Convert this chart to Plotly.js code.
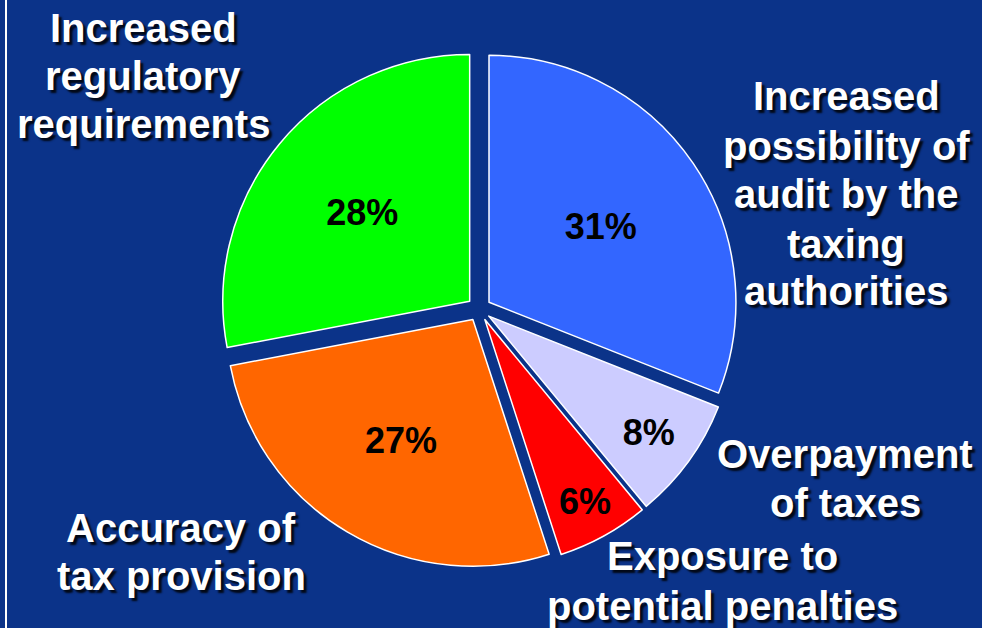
<!DOCTYPE html>
<html>
<head>
<meta charset="utf-8">
<script src="https://cdn.plot.ly/plotly-3.0.1.min.js"></script>
<style>
  html, body { margin: 0; padding: 0; background: #0b3389; }
  #chart { width: 982px; height: 628px; }
</style>
</head>
<body>
<div id="chart"></div>
<script>
// ---- data ----
const categories = [
  'Increased possibility of audit by the taxing authorities',
  'Overpayment of taxes',
  'Exposure to potential penalties',
  'Accuracy of tax provision',
  'Increased regulatory requirements'
];
const values = [31, 8, 6, 27, 28];
const sliceColors = ['#3366ff', '#ccccff', '#ff0000', '#ff6600', '#00ff00'];
const labelLines = [
  ['Increased', 'possibility of', 'audit by the', 'taxing', 'authorities'],
  ['Overpayment', 'of taxes'],
  ['Exposure to', 'potential penalties'],
  ['Accuracy of', 'tax provision'],
  ['Increased', 'regulatory', 'requirements']
];

// ---- layout (pixel positions of outside label lines: center x, baselines) ----
const W = 982, H = 628;
const labelX = [846, 845, 722, 181, 143];
const labelBaselines = [
  [110, 160, 208, 258, 305],
  [468, 517],
  [570, 620],
  [542, 590],
  [42, 90, 138]
];
const labelFont = 40;

const annotations = [];
labelLines.forEach((lines, i) => {
  lines.forEach((t, j) => {
    annotations.push({
      text: t,
      xref: 'paper', yref: 'paper',
      x: labelX[i] / W,
      y: 1 - (labelBaselines[i][j] - 0.35 * labelFont) / H,
      xanchor: 'center', yanchor: 'middle',
      showarrow: false,
      font: {
        family: 'Arial, "Liberation Sans", sans-serif',
        size: labelFont, color: '#ffffff', weight: 'bold',
        shadow: '3px 3px 2px rgba(0,0,0,0.85)'
      }
    });
  });
});

const trace = {
  type: 'pie',
  labels: categories,
  values: values,
  sort: false,
  direction: 'clockwise',
  rotation: 0,
  pull: values.map(() => 0.049),
  marker: { colors: sliceColors, line: { color: '#ffffff', width: 1.5 } },
  textinfo: 'percent',
  textposition: 'inside',
  insidetextorientation: 'horizontal',
  insidetextfont: { family: 'Arial, "Liberation Sans", sans-serif', size: 36, color: '#000000', weight: 'bold' },
  hoverinfo: 'label+percent',
  domain: { x: [220 / W, 738 / W], y: [60 / H, 578 / H] }
};

const layout = {
  width: W, height: H,
  margin: { l: 0, r: 0, t: 0, b: 0 },
  paper_bgcolor: '#0b3389',
  plot_bgcolor: '#0b3389',
  showlegend: false,
  annotations: annotations,
  shapes: [{
    type: 'line', xref: 'paper', yref: 'paper',
    x0: 6 / W, x1: 6 / W, y0: 0, y1: 1,
    line: { color: '#ffffff', width: 2 }
  }]
};

Plotly.newPlot('chart', [trace], layout, { displayModeBar: false, staticPlot: true });
</script>
</body>
</html>
